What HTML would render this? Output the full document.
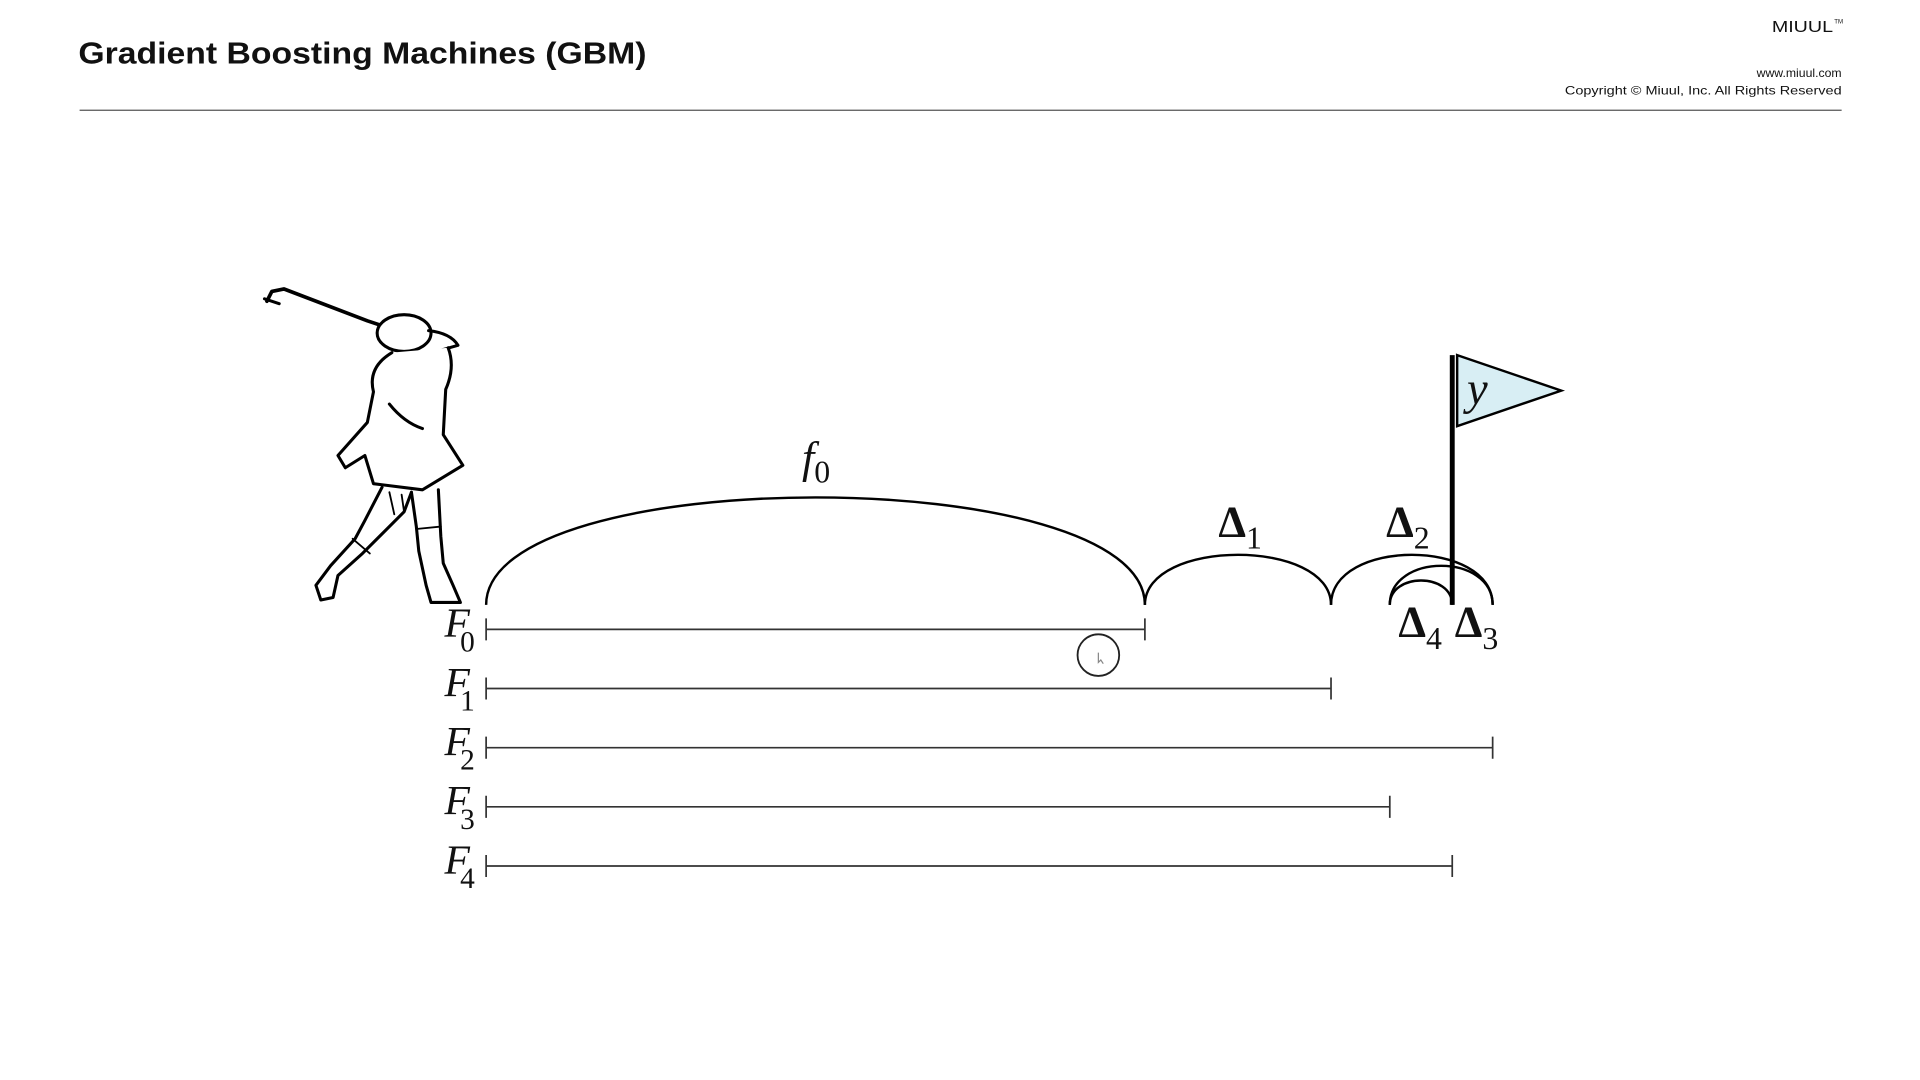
<!DOCTYPE html>
<html><head><meta charset="utf-8"><style>
html,body{margin:0;padding:0;background:#fff;width:1920px;height:1080px;overflow:hidden}
svg{display:block}
</style></head><body>
<svg id="chart" width="1920" height="1080" viewBox="0 0 1568 882" xmlns="http://www.w3.org/2000/svg">
<text x="64" y="52" font-family="Liberation Sans, sans-serif" font-size="25" font-weight="bold" fill="#111" textLength="464" lengthAdjust="spacingAndGlyphs">Gradient Boosting Machines (GBM)</text>
<text x="1447" y="26" font-family="Liberation Sans, sans-serif" font-size="13" fill="#111" textLength="50" lengthAdjust="spacingAndGlyphs">MIUUL</text>
<text x="1498" y="19" font-family="Liberation Sans, sans-serif" font-size="5" fill="#111">TM</text>
<text x="1504" y="63" text-anchor="end" font-family="Liberation Sans, sans-serif" font-size="10" fill="#111">www.miuul.com</text>
<text x="1278" y="77" font-family="Liberation Sans, sans-serif" font-size="10" fill="#111" textLength="226" lengthAdjust="spacingAndGlyphs">Copyright © Miuul, Inc. All Rights Reserved</text>
<line x1="65" y1="90" x2="1504" y2="90" stroke="#555" stroke-width="1"/>

<g id="golfer" fill="none" stroke="#000" stroke-width="2.5" stroke-linejoin="round" stroke-linecap="round">
<path d="M218 246 L222 238 L232 236 L300 262 L330 272" stroke-width="3"/>
<path d="M216 244 L228 248"/>
<ellipse cx="330" cy="272" rx="22" ry="15" fill="#fff"/>
<path d="M350 270 Q368 272 374 282 L360 286"/>
<path d="M320 288 Q300 300 305 320 L300 345 L276 372 L282 382 L298 372 L305 395 L345 400 L378 380 L362 355 L364 318 Q372 300 366 284" fill="#fff"/>
<path d="M318 330 Q330 345 345 350"/>
<path d="M312 398 L298 425 L290 440 L270 462 L258 478 L262 490 L272 488 L276 470 L296 452 L312 436 L330 418 L336 402"/>
<path d="M336 402 L340 430 L342 450 L348 478 L352 492 L376 492 L370 478 L362 460 L360 438 L358 400"/>
<path d="M288 440 L302 452 M340 432 L360 430 M318 402 L322 420 M328 404 L330 418" stroke-width="1.5"/>
</g>

<g id="marks"></g>
</svg>
<script>
// Data: positions along the course (units), and labels
const rowLabels = ["0","1","2","3","4"];
const rowEnds = [53.8, 69.0, 82.2, 73.8, 78.9];   // F0..F4 endpoints
const arcStarts = [0, 53.8, 69.0, 73.8, 73.8];
const arcEnds = [53.8, 69.0, 82.2, 82.2, 78.9];
const arcHeights = [88, 41, 41, 32, 20];
const arcLabels = ["f0","Δ1","Δ2","Δ3","Δ4"];
const targetY = 78.9;

const X0 = 397, X1 = 397 + 1000;           // scale: 100 units -> 1000px
const x = v => X0 + (X1 - X0) * v / 100;
const rowY = i => 514 + i * 48.3;
const baseY = 494;

const NS = "http://www.w3.org/2000/svg";
const g = document.getElementById("marks");
function mk(tag, attrs){ const e=document.createElementNS(NS,tag); for(const k in attrs) e.setAttribute(k,attrs[k]); g.appendChild(e); return e; }

rowEnds.forEach((v,i)=>{
  const y = rowY(i);
  const ln = mk("path",{d:`M${x(0)} ${y-9} V${y+9} M${x(0)} ${y} H${x(v)} M${x(v)} ${y-9} V${y+9}`,stroke:"#333","stroke-width":1.4,fill:"none"});
  
  
  const t = mk("text",{x:363,y:y+6,"font-family":"Liberation Serif, serif","font-style":"italic","font-size":34,fill:"#111"});
  
  
  t.innerHTML = `F<tspan font-style="normal" font-size="24" dx="-8" dy="12">${rowLabels[i]}</tspan>`;
});

arcStarts.forEach((s,i)=>{
  const a=x(s), b=x(arcEnds[i]), h=arcHeights[i];
  const p = mk("path",{d:`M${a} ${baseY} C${a} ${baseY-h*1.33} ${b} ${baseY-h*1.33} ${b} ${baseY}`,stroke:"#000","stroke-width":2,fill:"none"});
  
  
});

const lab = [
  {x:655,y:386,t:'<tspan font-style="italic">f</tspan><tspan font-size="26" dy="8">0</tspan>',n:'f0'},
  {x:995,y:438,t:'<tspan font-weight="bold">Δ</tspan><tspan font-size="26" dy="10">1</tspan>',n:'delta1'},
  {x:1132,y:438,t:'<tspan font-weight="bold">Δ</tspan><tspan font-size="26" dy="10">2</tspan>',n:'delta2'},
  {x:1188,y:520,t:'<tspan font-weight="bold">Δ</tspan><tspan font-size="26" dy="10">3</tspan>',n:'delta3'},
  {x:1142,y:520,t:'<tspan font-weight="bold">Δ</tspan><tspan font-size="26" dy="10">4</tspan>',n:'delta4'}
];
lab.forEach(l=>{
  const t = mk("text",{x:l.x,y:l.y,"font-family":"Liberation Serif, serif","font-size":36,fill:"#111"});
  
  
  t.innerHTML = l.t;
});

const fx = x(targetY);
const pole = mk("line",{x1:fx,y1:290,x2:fx,y2:baseY,stroke:"#000","stroke-width":4});


const flag = mk("polygon",{points:`${fx+4},290 ${fx+89},319 ${fx+4},348`,fill:"#d8eef4",stroke:"#000","stroke-width":2});


const fy = mk("text",{x:fx+12,y:330,"font-family":"Liberation Serif, serif","font-style":"italic","font-size":38,fill:"#111"});


fy.textContent = "y";

const ball = mk("circle",{cx:897,cy:535,r:17,fill:"none",stroke:"#222","stroke-width":1.5});


const cur = mk("path",{d:"M897 533 L897 541 L899 539 L901 542",stroke:"#888","stroke-width":1,fill:"none"});


</script>
</body></html>
